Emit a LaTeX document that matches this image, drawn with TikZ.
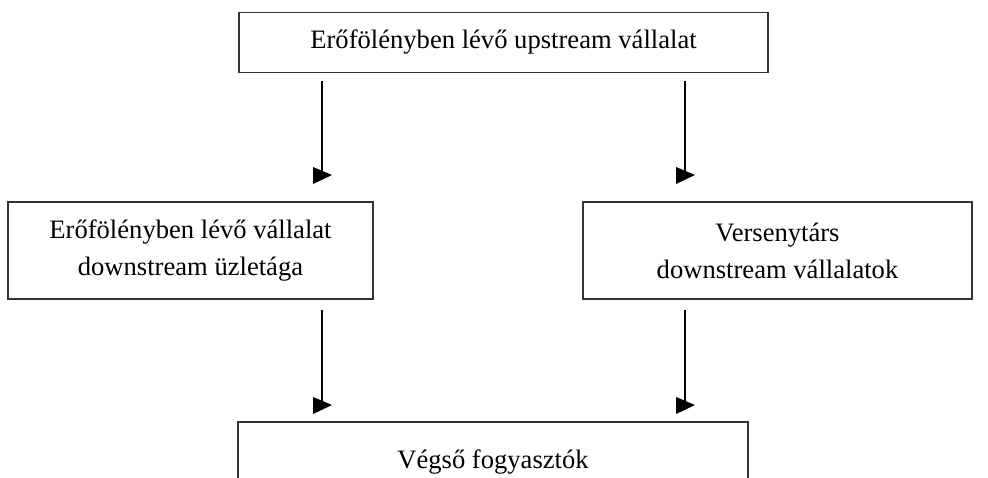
\documentclass[tikz,border=0pt]{standalone}
\usepackage{fontspec}
\setmainfont{Liberation Serif}
\newcommand{\arrowhd}[1]{\fill (#1) ++(-9,-8) -- ++(19,8) -- ++(-19,9) -- cycle;}

\begin{document}
\begin{tikzpicture}[x=0.5pt,y=-0.5pt,
  box/.style={draw=black!80, line width=0.7pt, inner sep=0pt, align=center,
    font=\fontsize{13.3}{18.5}\selectfont}]
  \useasboundingbox (0,0) rectangle (988,477);
  \clip (0,0) rectangle (988,477);

  \node[box, minimum width=264.5pt, minimum height=30pt] (up) at (503.5,42.5)
    {Erőfölényben lévő upstream vállalat};
  \node[box, minimum width=182.5pt, minimum height=48.5pt] (own) at (190.5,250.5)
    {Erőfölényben lévő vállalat\\downstream üzletága};
  \node[box, minimum width=194.5pt, minimum height=48.5pt] (rival) at (777.5,250.5)
    {Versenytárs\\downstream vállalatok};
  \node[box, minimum width=255pt, minimum height=40pt] (cons) at (493,462)
    {Végső fogyasztók};

  \coordinate (a1) at (322,81);
  \coordinate (b1) at (322,175);
  \coordinate (a2) at (685,81);
  \coordinate (b2) at (685,175);
  \coordinate (a3) at (322,310);
  \coordinate (b3) at (322,405);
  \coordinate (a4) at (685,310);
  \coordinate (b4) at (685,405);

  \draw[line width=0.6pt] (a1) -- (b1);
  \draw[line width=0.6pt] (a2) -- (b2);
  \draw[line width=0.6pt] (a3) -- (b3);
  \draw[line width=0.6pt] (a4) -- (b4);

  \arrowhd{b1}
  \arrowhd{b2}
  \arrowhd{b3}
  \arrowhd{b4}
\end{tikzpicture}
\end{document}
